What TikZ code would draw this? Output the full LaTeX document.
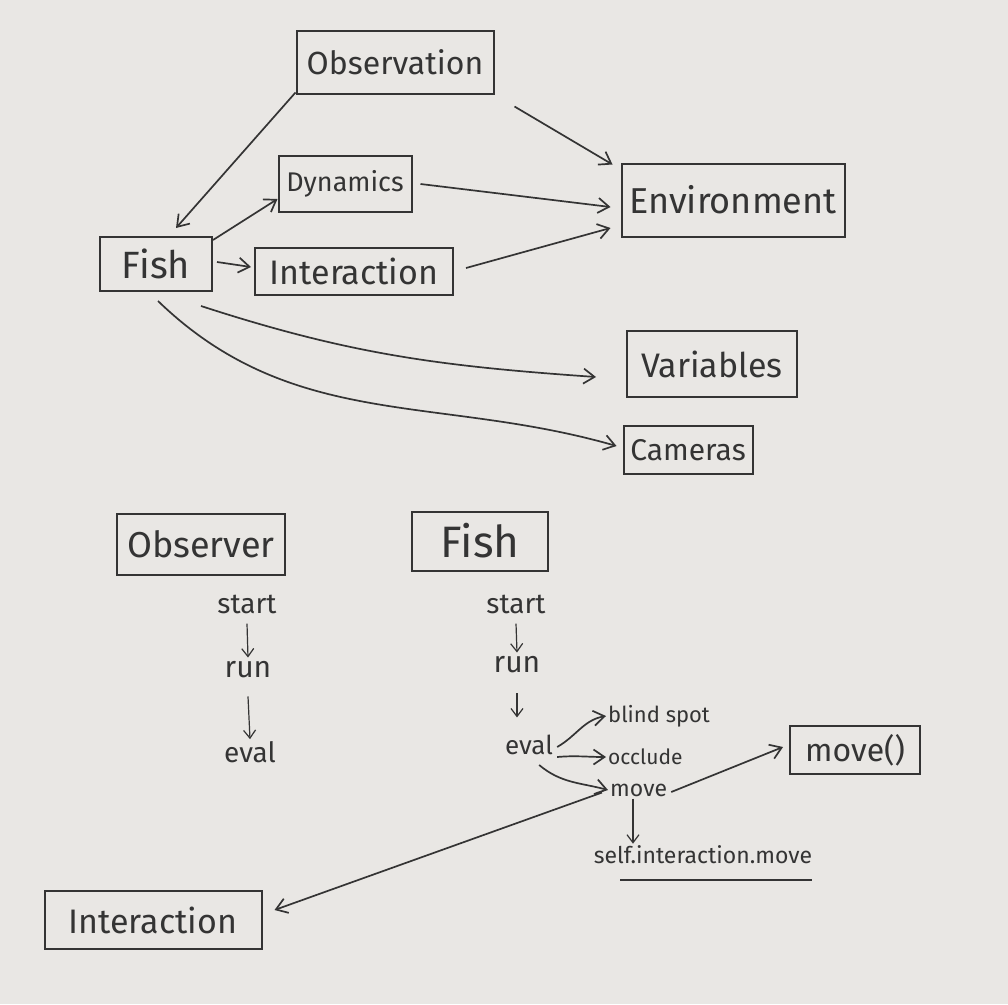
\documentclass[tikz,border=0pt]{standalone}
\usepackage{fontspec}
\setmainfont{Fira Sans}
\usetikzlibrary{arrows.meta}
\definecolor{paper}{RGB}{233,231,228}
\definecolor{pencil}{RGB}{52,52,52}
\newcommand{\fsz}[1]{\fontsize{#1}{#1}\selectfont}
\tikzset{
  box/.style={draw=pencil, line width=2pt, inner sep=0pt, text=pencil},
  word/.style={text=pencil, inner sep=2pt},
  arr/.style={draw=pencil, line width=1.7pt, -{Straight Barb[length=11pt,width=15pt,line width=1.7pt]}},
  smallarr/.style={draw=pencil, line width=1.2pt, -{Straight Barb[length=8pt,width=12pt,line width=1.2pt]}},
}
\begin{document}
\begin{tikzpicture}[x=1pt,y=-1pt]
\fill[paper] (0,0) rectangle (1008,1004);
\useasboundingbox (0,0) rectangle (1008,1004);

% top part
\node[box, minimum width=197pt, minimum height=63pt, font=\fsz{32}] (obs) at (395,62) {Observation};
\node[box, minimum width=223pt, minimum height=73pt, font=\fsz{36}] (env) at (733,200) {Environment};
\node[box, minimum width=133pt, minimum height=56pt, font=\fsz{27}] (dyn) at (345,184) {Dynamics};
\node[box, minimum width=112pt, minimum height=54pt, font=\fsz{38}] (fish) at (156,264) {Fish};
\node[box, minimum width=198pt, minimum height=47pt, font=\fsz{34}] (inter) at (354,271) {Interaction};
\node[box, minimum width=170pt, minimum height=66pt, font=\fsz{34}] (vars) at (712,364) {Variables};
\node[box, minimum width=129pt, minimum height=48pt, font=\fsz{30}] (cams) at (688,450) {Cameras};

\draw[arr] ([xshift=0pt,yshift=2pt]obs.south west) -- ([xshift=20pt,yshift=8pt]fish.north);
\draw[arr] ([xshift=20pt,yshift=-12pt]obs.south east) -- ([xshift=-8pt,yshift=-2pt]env.north west);
\draw[arr] ([xshift=8pt]dyn.east) -- ([xshift=-10pt,yshift=-7pt]env.west);
\draw[arr] ([xshift=12pt,yshift=3pt]inter.east) -- ([xshift=-10pt,yshift=-28pt]env.west);
\draw[arr] ([yshift=-4pt]fish.north east) -- ([yshift=14pt]dyn.south west);
\draw[arr] ([xshift=4pt,yshift=2pt]fish.east) -- ([xshift=-3pt,yshift=4pt]inter.west);
\draw[arr] ([xshift=-12pt,yshift=-14pt]fish.south east) to[out=-18,in=176] ([xshift=-30pt,yshift=-13pt]vars.west);
\draw[arr] ([xshift=2pt,yshift=-9pt]fish.south) to[out=-44,in=164] ([xshift=-6pt,yshift=4pt]cams.west);

% bottom part
\node[box, minimum width=168pt, minimum height=61pt, font=\fsz{36}] (observer) at (201,544) {Observer};
\node[box, minimum width=136pt, minimum height=59pt, font=\fsz{44}] (fish2) at (480,541) {Fish};

\node[word, font=\fsz{28}] (ostart) at (247,604) {start};
\node[word, font=\fsz{30}] (orun) at (248,670) {run};
\node[word, font=\fsz{28}] (oeval) at (250,752) {eval};
\draw[smallarr] ([yshift=-8pt]ostart.south) -- ([yshift=2pt]orun.north);
\draw[smallarr] ([yshift=-16pt]orun.south) -- ([yshift=0pt]oeval.north);

\node[word, font=\fsz{28}] (fstart) at (516,604) {start};
\node[word, font=\fsz{30}] (frun) at (517,665) {run};
\node[word, font=\fsz{26}] (feval) at (529,745) {eval};
\draw[smallarr] ([yshift=-8pt]fstart.south) -- ([yshift=2pt]frun.north);
\draw[smallarr] ([yshift=-18pt]frun.south) -- ++(0,24);

\node[word, font=\fsz{22}, anchor=west] (blind) at (606,716) {blind spot};
\node[word, font=\fsz{21}, anchor=west] (occl) at (606,757) {occlude};
\node[word, font=\fsz{23}, anchor=west] (mv) at (608,790) {move};
\node[box, minimum width=130pt, minimum height=48pt, font=\fsz{32}] (movebox) at (855,750) {move()};
\node[word, font=\fsz{23}] (selfm) at (703,855) {self.interaction.move};
\draw[draw=pencil, line width=1.8pt] (620,880) -- (812,880);
\node[box, minimum width=217pt, minimum height=58pt, font=\fsz{34}] (inter2) at (153,920) {Interaction};

\draw[arr] ([xshift=2pt,yshift=-2pt]feval.east) to[out=30,in=190] (blind.west);
\draw[arr] ([xshift=2pt,yshift=-12pt]feval.east) to[out=5,in=180] (occl.west);
\draw[arr] ([xshift=-16pt,yshift=-20pt]feval.east) to[out=-40,in=165] (mv.west);
\draw[arr] ([xshift=2pt,yshift=-2pt]mv.east) -- ([xshift=-6pt,yshift=3pt]movebox.west);
\draw[smallarr] ([xshift=25pt]mv.south west) -- ([xshift=-70pt,yshift=0pt]selfm.north);
\draw[arr] ([xshift=-6pt,yshift=6pt]mv.south west) -- ([xshift=12pt,yshift=10pt]inter2.east);
\end{tikzpicture}
\end{document}
